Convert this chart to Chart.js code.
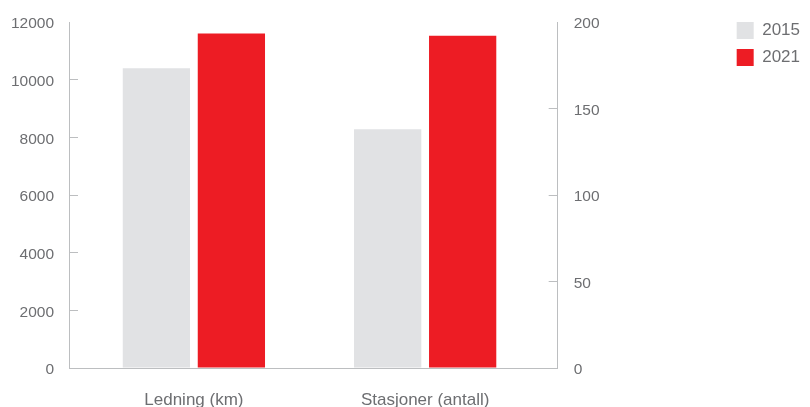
<!DOCTYPE html>
<html>
<head>
<meta charset="utf-8">
<script src="https://cdn.jsdelivr.net/npm/chart.js@4/dist/chart.umd.min.js"></script>
<style>
    html, body { margin: 0; padding: 0; background: #fff; }
    #wrap { width: 810px; height: 407px; }
</style>
</head>
<body>
<div id="wrap"><canvas id="chart" width="810" height="407"></canvas></div>
<script>
// --- Data ---
const categories = ['Ledning (km)', 'Stasjoner (antall)'];
const years = ['2015', '2021'];
const ledningKm = [10400, 11600];     // left axis
const stasjonerAntall = [138, 192];   // right axis
const leftTicks = [0, 2000, 4000, 6000, 8000, 10000, 12000];
const rightTicks = [0, 50, 100, 150, 200];

// --- Style ---
const yearColors = ['#e1e2e4', '#ed1c24'];
const textGrey = '#6d6e71';
const axisGrey = '#bcbec0';
const fontFamily = "'Liberation Sans', Helvetica, Arial, sans-serif";

// one pair of bars per category, each on its own axis
const datasets = [];
years.forEach((year, i) => {
    datasets.push({ label: year, data: [ledningKm[i], null], yAxisID: 'y', backgroundColor: yearColors[i] });
});
years.forEach((year, i) => {
    datasets.push({ label: year, data: [null, stasjonerAntall[i]], yAxisID: 'y1', backgroundColor: yearColors[i] });
});

// nudge the category centres so the groups sit like the original
const catStart = -0.54;
const catRange = 2.113;
const categoryNudge = {
    id: 'categoryNudge',
    afterLayout(chart) {
        const x = chart.scales.x;
        x._startValue = catStart;
        x._valueRange = catRange;
    }
};

const tickFont = { family: fontFamily, size: 15.5 };

function valueAxis(position, ticks, width, padding) {
    return {
        position: position,
        min: ticks[0],
        max: ticks[ticks.length - 1],
        afterBuildTicks: s => { s.ticks = ticks.map(v => ({ value: v })); },
        ticks: { color: textGrey, font: tickFont, padding: padding, labelOffset: 2, callback: v => String(v) },
        grid: {
            drawOnChartArea: false,
            tickLength: -9,
            tickColor: ctx => ctx.index === ticks.length - 1 ? 'transparent' : axisGrey
        },
        border: { color: axisGrey },
        afterFit: s => { s.width = width; s.paddingTop = 22; }
    };
}

new Chart(document.getElementById('chart'), {
    type: 'bar',
    data: { labels: categories, datasets: datasets },
    options: {
        responsive: false,
        animation: false,
        layout: { padding: { top: 12, left: 0, right: 0, bottom: 0 } },
        datasets: {
            bar: { skipNull: true, categoryPercentage: 0.6485, barPercentage: 0.897 }
        },
        scales: {
            x: {
                offset: true,
                grid: { drawOnChartArea: false, drawTicks: false },
                border: { color: axisGrey },
                ticks: { color: textGrey, font: { family: fontFamily, size: 17 }, padding: 22 },
                afterFit: s => { s.height = 39; }
            },
            y: valueAxis('left', leftTicks, 69, 24),
            y1: valueAxis('right', rightTicks, 169, 25)
        },
        plugins: {
            legend: {
                position: 'right',
                align: 'start',
                labels: {
                    boxWidth: 17,
                    boxHeight: 17,
                    padding: 10,
                    color: textGrey,
                    font: { family: fontFamily, size: 17 },
                    filter: item => item.datasetIndex < years.length
                }
            },
            tooltip: { enabled: false }
        }
    },
    plugins: [categoryNudge]
});
</script>
</body>
</html>
